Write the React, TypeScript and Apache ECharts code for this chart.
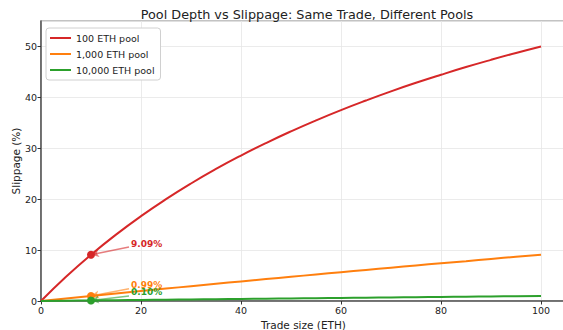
import React, { useEffect, useRef } from "react";
import * as echarts from "echarts";

const tradeSizes = [0, 5, 10, 15, 20, 25, 30, 35, 40, 45, 50, 55, 60, 65, 70, 75, 80, 85, 90, 95, 100];
const pool100 = [0, 4.76, 9.09, 13.04, 16.67, 20.0, 23.08, 25.93, 28.57, 31.03, 33.33, 35.48, 37.5, 39.39, 41.18, 42.86, 44.44, 45.95, 47.37, 48.72, 50.0];
const pool1000 = [0, 0.5, 0.99, 1.48, 1.96, 2.44, 2.91, 3.38, 3.85, 4.31, 4.76, 5.21, 5.66, 6.1, 6.54, 6.98, 7.41, 7.83, 8.26, 8.68, 9.09];
const pool10000 = [0, 0.05, 0.1, 0.15, 0.2, 0.25, 0.3, 0.35, 0.4, 0.45, 0.5, 0.55, 0.6, 0.65, 0.69, 0.74, 0.79, 0.84, 0.89, 0.94, 0.99];

const seriesNames = ["100 ETH pool", "1,000 ETH pool", "10,000 ETH pool"];
const seriesColors = ["#d62728", "#ff7f0e", "#2ca02c"];
const highlightTrade = 10;
const highlightValues = [9.09, 0.99, 0.1];
const highlightLabels = ["9.09%", "0.99%", "0.10%"];
const labelPositions = [
  [18, 11.2],
  [18, 3.1],
  [18, 1.75],
];
const arrowEnds = [
  [17.6, 10.6],
  [17.6, 2.4],
  [17.6, 1.0],
];

export default function App() {
  const ref = useRef<HTMLDivElement>(null);
  useEffect(() => {
    if (!ref.current) return;
    const chart = echarts.init(ref.current, undefined, { renderer: "svg" });
    const all = [pool100, pool1000, pool10000];
    const font = "DejaVu Sans";
    const lineSeries: any[] = all.map((vals, i) => ({
      name: seriesNames[i],
      type: "line",
      data: tradeSizes.map((x, j) => [x, vals[j]]),
      smooth: true,
      showSymbol: false,
      symbol: "none",
      lineStyle: { color: seriesColors[i], width: 2 },
      itemStyle: { color: seriesColors[i] },
      z: 3,
    }));
    const markerSeries: any[] = highlightValues.map((v, i) => ({
      name: seriesNames[i] + " marker",
      type: "scatter",
      data: [[highlightTrade, v]],
      symbol: "circle",
      symbolSize: 8,
      itemStyle: { color: seriesColors[i], opacity: 1 },
      z: 4,
      markLine: {
        silent: true,
        symbol: ["arrow", "none"],
        symbolSize: [6, 8],
        lineStyle: { color: seriesColors[i], opacity: 0.6, width: 1.5, type: "solid" },
        label: { show: false },
        data: [[{ coord: [highlightTrade, v] }, { coord: arrowEnds[i] }]],
      },
      markPoint: {
        silent: true,
        symbol: "circle",
        symbolSize: 0,
        data: [{ coord: labelPositions[i] }],
        label: {
          show: true,
          position: "right",
          distance: 0,
          formatter: highlightLabels[i],
          color: seriesColors[i],
          fontWeight: "bold",
          fontSize: 9,
          fontFamily: font,
        },
      },
    }));
    chart.setOption({
      animation: false,
      backgroundColor: "#ffffff",
      title: {
        text: "Pool Depth vs Slippage: Same Trade, Different Pools",
        left: 302,
        textAlign: "center",
        top: 3,
        textStyle: { fontSize: 12.8, fontWeight: "normal", color: "#222", fontFamily: font },
      },
      legend: {
        data: seriesNames,
        left: 46,
        top: 28,
        orient: "vertical",
        itemWidth: 21,
        itemHeight: 2,
        itemGap: 6,
        padding: [5, 6, 5, 4],
        backgroundColor: "#fff",
        borderColor: "#d0d0d0",
        borderWidth: 1,
        borderRadius: 3,
        textStyle: { fontSize: 9.5, color: "#222", fontFamily: font },
        icon: "rect",
      },
      grid: {
        left: 41,
        top: 21,
        width: 525,
        height: 280,
        containLabel: false,
        outerBoundsMode: "none",
        show: true,
        borderColor: "#888",
        borderWidth: 1.2,
      },
      xAxis: {
        type: "value",
        min: 0,
        max: 105,
        interval: 20,
        name: "Trade size (ETH)",
        nameLocation: "middle",
        nameGap: 18,
        nameMoveOverlap: false,
        nameTextStyle: { fontSize: 10.5, color: "#222", fontFamily: font },
        axisLine: { show: true, lineStyle: { color: "#555", width: 1.5 } },
        axisTick: { show: true, length: 3.5, lineStyle: { color: "#333" } },
        axisLabel: { fontSize: 9.5, color: "#222", margin: 4, fontFamily: font, showMaxLabel: false },
        splitLine: { show: true, lineStyle: { color: "#e6e6e6", width: 0.8 } },
      },
      yAxis: {
        type: "value",
        min: 0,
        max: 55,
        interval: 10,
        name: "Slippage (%)",
        nameLocation: "middle",
        nameGap: 20,
        nameRotate: 90,
        nameMoveOverlap: false,
        nameTextStyle: { fontSize: 10.5, color: "#222", fontFamily: font },
        axisLine: { show: true, lineStyle: { color: "#555", width: 1.5 } },
        axisTick: { show: true, length: 3.5, lineStyle: { color: "#333" } },
        axisLabel: { fontSize: 9.5, color: "#222", margin: 4, fontFamily: font, showMaxLabel: false },
        splitLine: { show: true, lineStyle: { color: "#e6e6e6", width: 0.8 } },
      },
      series: [...lineSeries, ...markerSeries],
    });
    return () => chart.dispose();
  }, []);
  return <div ref={ref} style={{ position: "fixed", left: 0, top: 0, width: 563, height: 330 }} />;
}
